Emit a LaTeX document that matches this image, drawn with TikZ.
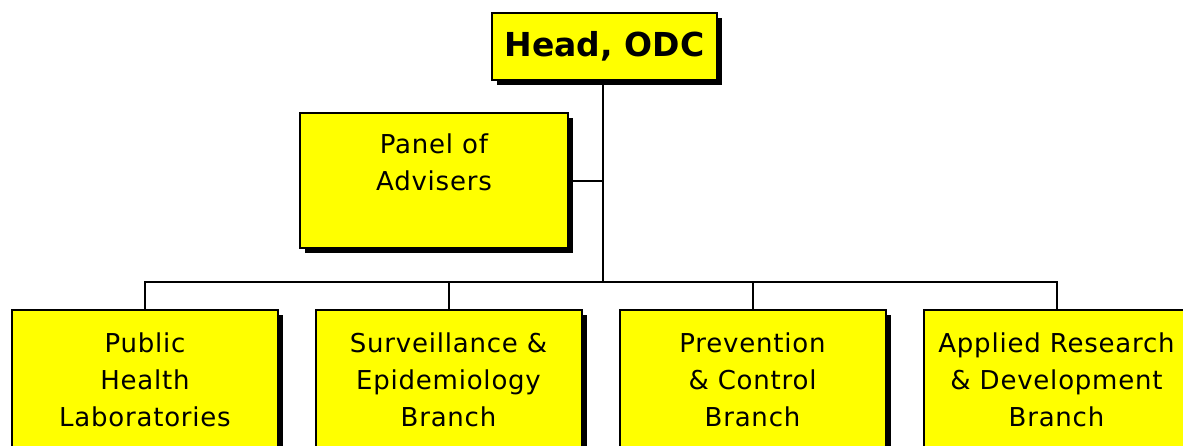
\documentclass[tikz,border=0pt]{standalone}
\usepackage{fontspec}
\setmainfont{DejaVu Sans}[LetterSpace=3]
\newfontfamily\headfont{DejaVu Sans}
\usetikzlibrary{shadows}

\tikzset{
  orgbox/.style={draw, line width=1.5pt, fill={rgb,255:red,255;green,255;blue,0},
    drop shadow={shadow xshift=3.75pt, shadow yshift=-3.75pt, fill=black, opacity=1},
    align=center, inner sep=0pt, font=\fontsize{19.5}{27.75}\selectfont},
  unitbox/.style={orgbox, minimum width=199.5pt, minimum height=105pt},
  orgline/.style={line width=1.5pt}
}

\begin{document}
\begin{tikzpicture}[x=0.75pt,y=0.75pt,yscale=-1,xscale=1]
\useasboundingbox (0,0) rectangle (1183,446);

% Head
\node [orgbox, minimum width=168.75pt, minimum height=50.25pt,
  font=\headfont\bfseries\fontsize{24.75}{30}\selectfont] (head) at (604.5,46.5) {Head, ODC};
% Advisers
\node [orgbox, minimum width=201pt, minimum height=101.25pt] (panel) at (434,180.5) {Panel of\\Advisers\\\mbox{}};

% Branches
\node [unitbox] (lab) at (145,380) {Public\\Health\\Laboratories};
\node [unitbox] (surv) at (448.5,380) {Surveillance \&\\Epidemiology\\Branch};
\node [unitbox] (prev) at (752.5,380) {Prevention\\\& Control\\Branch};
\node [unitbox] (ard) at (1056.5,380) {Applied Research\\\& Development\\Branch};

% Lines
\coordinate (bus) at (603,282);
\draw [orgline] (head.south -| bus) -- (bus);
\draw [orgline] (panel.east) -- (panel.east -| bus);
\draw [orgline] (lab.north) |- (bus) -| (ard.north);
\draw [orgline] (surv.north) -- (surv.north |- bus);
\draw [orgline] (prev.north) -- (prev.north |- bus);

\end{tikzpicture}
\end{document}
